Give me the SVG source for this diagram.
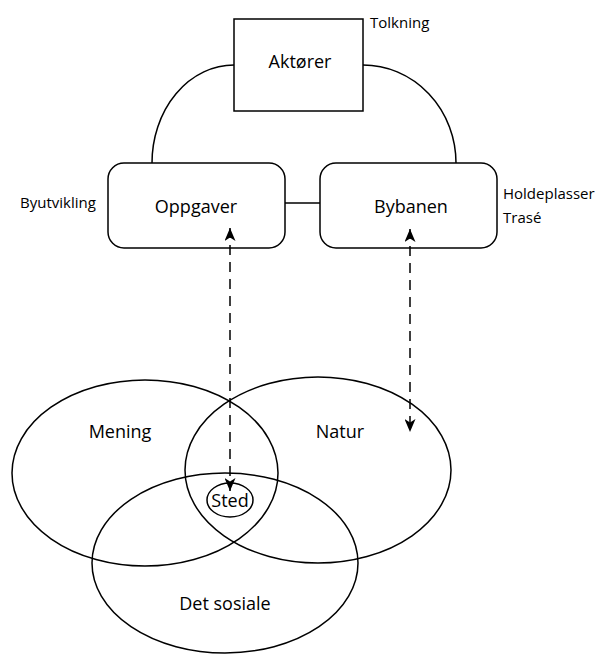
<svg xmlns="http://www.w3.org/2000/svg" width="598" height="654" viewBox="0 0 598 654">
<style>
.shape{fill:#fff;stroke:#000;stroke-width:1.5}
.ring{fill:none;stroke:#000;stroke-width:1.5}
.line{fill:none;stroke:#000;stroke-width:1.5}
.dash{fill:none;stroke:#000;stroke-width:1.5;stroke-dasharray:10 7}
text{font-family:"Open Sans","Liberation Sans",sans-serif;fill:#000}
.big{font-size:18px;text-anchor:middle}
.small{font-size:15px}
</style>
<defs>
<marker id="arr" viewBox="0 0 13 11" refX="13" refY="5.5" markerWidth="13" markerHeight="11" markerUnits="userSpaceOnUse" orient="auto-start-reverse">
<path d="M0,0 L13,5.5 L0,11 L3.5,5.5 Z" fill="#000" stroke="none"/>
</marker>
</defs>
<g id="mening">
<ellipse class="ring" cx="145" cy="473" rx="133" ry="93"/>
<text class="big" x="120" y="438">Mening</text>
</g>
<g id="natur">
<ellipse class="ring" cx="318" cy="470" rx="133" ry="93"/>
<text class="big" x="340" y="438">Natur</text>
</g>
<g id="det-sosiale">
<ellipse class="ring" cx="225" cy="563" rx="133" ry="90"/>
<text class="big" x="225" y="610">Det sosiale</text>
</g>
<g id="sted">
<ellipse class="ring" cx="230" cy="500" rx="23" ry="17"/>
<text class="big" x="230" y="507">Sted</text>
</g>
<g id="aktorer">
<rect class="shape" x="234" y="19" width="129" height="92"/>
<text class="big" x="300" y="68">Aktører</text>
<text class="small" x="370" y="28">Tolkning</text>
</g>
<g id="oppgaver">
<rect class="shape" x="108" y="163" width="177" height="85" rx="16"/>
<text class="big" x="196" y="213">Oppgaver</text>
<text class="small" x="20" y="208">Byutvikling</text>
</g>
<g id="bybanen">
<rect class="shape" x="320" y="163" width="177" height="85" rx="16"/>
<text class="big" x="411" y="213">Bybanen</text>
<text class="small" x="503" y="199">Holdeplasser</text>
<text class="small" x="503" y="223">Trasé</text>
</g>
<g id="connectors">
<path class="line" d="M234,65 A82,98 0 0 0 152,163"/>
<path class="line" d="M363,65 A93,98 0 0 1 456,163"/>
<path class="line" d="M285,203 L320,203"/>
<path class="dash" d="M230,228 L230,491" marker-start="url(#arr)" marker-end="url(#arr)"/>
<path class="dash" d="M410,229 L410,432" marker-start="url(#arr)" marker-end="url(#arr)"/>
</g>
</svg>
